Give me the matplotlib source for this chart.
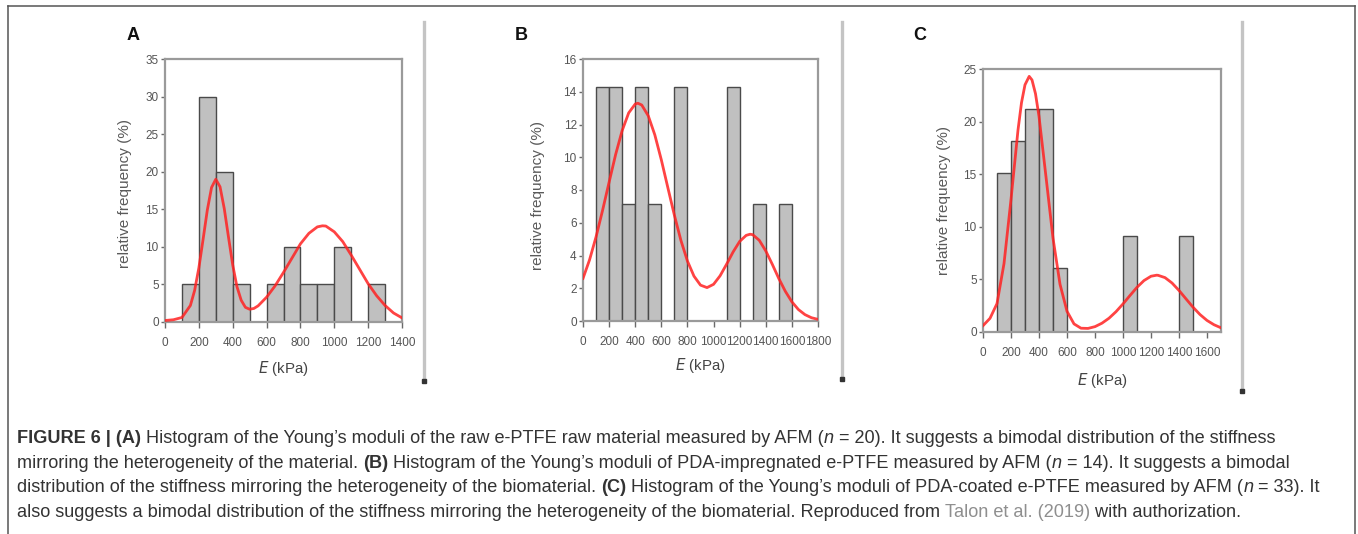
import matplotlib
matplotlib.use("Agg")
import matplotlib.pyplot as plt
from matplotlib.lines import Line2D

# ---------------- data ----------------
# bin edges (kPa), bin width 100
bins_A = [100, 200, 300, 400, 500, 600, 700, 800, 900, 1000, 1100, 1200]
freq_A = [5, 30, 20, 5, 0, 5, 10, 5, 5, 10, 0, 5]
curve_A_x = [0, 50, 100, 150, 175, 200, 225, 250, 275, 300, 325, 350, 375, 400, 425, 450,
             475, 500, 525, 550, 600, 650, 700, 750, 800, 850, 900, 930, 950, 1000, 1050,
             1100, 1150, 1200, 1250, 1300, 1350, 1400]
curve_A_y = [0.2, 0.3, 0.6, 2.2, 4.2, 7.2, 11.0, 14.9, 17.9, 19.0, 18.0, 15.1, 11.3, 7.6, 4.7, 2.9,
             1.95, 1.7, 1.8, 2.15, 3.3, 4.8, 6.6, 8.5, 10.4, 11.8, 12.66, 12.8, 12.77, 12.0, 10.7,
             8.9, 7.0, 5.1, 3.5, 2.2, 1.2, 0.55]

bins_B = [100, 200, 300, 400, 500, 700, 1100, 1300, 1500]
freq_B = [14.29, 14.29, 7.14, 14.29, 7.14, 14.29, 14.29, 7.14, 7.14]
curve_B_x = [0, 50, 100, 150, 200, 250, 300, 350, 400, 420, 450, 500, 550, 600, 650, 700, 750,
             800, 850, 900, 950, 1000, 1050, 1100, 1150, 1200, 1250, 1280, 1300, 1350, 1400,
             1450, 1500, 1550, 1600, 1650, 1700, 1750, 1800]
curve_B_y = [2.6, 3.73, 5.14, 6.76, 8.48, 10.17, 11.63, 12.71, 13.25, 13.3, 13.19, 12.53, 11.37,
             9.84, 8.14, 6.46, 4.92, 3.66, 2.74, 2.19, 2.04, 2.24, 2.76, 3.47, 4.22, 4.86, 5.23,
             5.3, 5.27, 4.93, 4.28, 3.46, 2.59, 1.81, 1.17, 0.70, 0.39, 0.20, 0.10]

bins_C = [100, 200, 300, 400, 500, 1000, 1400]
freq_C = [15.15, 18.18, 21.21, 21.21, 6.06, 9.09, 9.09]
curve_C_x = [0, 50, 100, 150, 200, 250, 275, 300, 330, 350, 375, 400, 450, 500, 550, 600, 650,
             700, 750, 800, 850, 900, 950, 1000, 1050, 1100, 1150, 1200, 1240, 1250, 1300, 1350,
             1400, 1450, 1500, 1550, 1600, 1650, 1700]
curve_C_y = [0.6, 1.3, 2.7, 6.5, 12.6, 19.2, 21.8, 23.5, 24.3, 23.96, 22.65, 20.5, 14.74, 8.92,
             4.54, 1.97, 0.77, 0.36, 0.34, 0.51, 0.84, 1.31, 1.93, 2.67, 3.47, 4.25, 4.89, 5.30,
             5.40, 5.39, 5.17, 4.66, 3.95, 3.15, 2.36, 1.66, 1.10, 0.69, 0.40]

panels = [
    dict(label="A", bins=bins_A, freq=freq_A, cx=curve_A_x, cy=curve_A_y,
         xlim=(0, 1400), xticks=list(range(0, 1401, 200)), ylim=(0, 35), yticks=list(range(0, 36, 5)),
         rect=[165, 59, 402, 322], lab=(133, 36), sep=(424, 22, 381),
         ylab=(-0.169, 0.49), xlab=(0.5, -0.175)),
    dict(label="B", bins=bins_B, freq=freq_B, cx=curve_B_x, cy=curve_B_y,
         xlim=(0, 1800), xticks=list(range(0, 1801, 200)), ylim=(0, 16), yticks=list(range(0, 17, 2)),
         rect=[583, 59, 818, 321], lab=(521, 36), sep=(842, 22, 379),
         ylab=(-0.191, 0.48), xlab=(0.5, -0.168)),
    dict(label="C", bins=bins_C, freq=freq_C, cx=curve_C_x, cy=curve_C_y,
         xlim=(0, 1700), xticks=list(range(0, 1601, 200)), ylim=(0, 25), yticks=list(range(0, 26, 5)),
         rect=[983, 69, 1221, 332], lab=(920, 36), sep=(1242, 22, 391),
         ylab=(-0.164, 0.50), xlab=(0.5, -0.183)),
]

W, H = 1358, 534
fig = plt.figure(figsize=(W / 100, H / 100), dpi=100)
plt.rcParams['font.family'] = ['Liberation Sans', 'DejaVu Sans']

def fx(px):
    return px / W

def fy(py):
    return 1 - py / H

frame_col = "#9a9a9a"
tick_col = "#6a6a6a"

for p in panels:
    x0, y0, x1, y1 = p["rect"]
    ax = fig.add_axes([fx(x0), fy(y1), fx(x1) - fx(x0), (y1 - y0) / H])
    ax.bar(p["bins"], p["freq"], width=100, align="edge", color="#c0c0c0",
           edgecolor="#4a4a4a", linewidth=1.0, zorder=2)
    ax.plot(p["cx"], p["cy"], color="#ff2222", lw=2.0, alpha=0.85, zorder=3)
    ax.set_xlim(*p["xlim"])
    ax.set_ylim(*p["ylim"])
    ax.set_xticks(p["xticks"])
    ax.set_yticks(p["yticks"])
    for s in ax.spines.values():
        s.set_color(frame_col)
        s.set_linewidth(1.6)
    ax.tick_params(axis="x", direction="out", length=4, width=1.0, color=tick_col,
                   labelsize=8.5, labelcolor="#555555", pad=6.5)
    ax.tick_params(axis="y", direction="out", length=3, width=1.0, color=tick_col,
                   labelsize=8.5, labelcolor="#555555", pad=1.5)
    yl = ax.set_ylabel("relative frequency (%)", fontsize=11, color="#5a5a5a")
    yl.set_va("center")
    ax.yaxis.set_label_coords(*p["ylab"])
    xl = ax.set_xlabel("$\\it{E}$ (kPa)", fontsize=10.8, color="#444444")
    xl.set_va("center")
    ax.xaxis.set_label_coords(*p["xlab"])
    # panel letter
    fig.text(fx(p["lab"][0]), fy(p["lab"][1]), p["label"], fontsize=13, fontweight="bold",
             ha="center", va="center", color="#111111")
    # separator line
    sx, st, sb = p["sep"]
    fig.add_artist(Line2D([fx(sx), fx(sx)], [fy(st), fy(sb)], transform=fig.transFigure,
                          color="#c4c4c4", lw=2.4))
    fig.add_artist(Line2D([fx(sx)], [fy(sb)], transform=fig.transFigure, marker="s",
                          markersize=2.5, color="#333333", lw=0))

# outer border
for xs, ys in [([8, 8], [6, 540]), ([8, 1355], [6, 6]), ([1355, 1355], [6, 540])]:
    fig.add_artist(Line2D([fx(v) for v in xs], [fy(v) for v in ys], transform=fig.transFigure,
                          color="#555555", lw=1.1))

# caption
txt_col = "#333333"
cap_size = 13.1
caption_lines = [
    [("FIGURE 6 | (A)", "bold", txt_col, "normal"),
     (" Histogram of the Young\u2019s moduli of the raw e-PTFE raw material measured by AFM (", "normal", txt_col, "normal"),
     ("n", "normal", txt_col, "italic"),
     (" = 20). It suggests a bimodal distribution of the stiffness", "normal", txt_col, "normal")],
    [("mirroring the heterogeneity of the material. ", "normal", txt_col, "normal"),
     ("(B)", "bold", txt_col, "normal"),
     (" Histogram of the Young\u2019s moduli of PDA-impregnated e-PTFE measured by AFM (", "normal", txt_col, "normal"),
     ("n", "normal", txt_col, "italic"),
     (" = 14). It suggests a bimodal", "normal", txt_col, "normal")],
    [("distribution of the stiffness mirroring the heterogeneity of the biomaterial. ", "normal", txt_col, "normal"),
     ("(C)", "bold", txt_col, "normal"),
     (" Histogram of the Young\u2019s moduli of PDA-coated e-PTFE measured by AFM (", "normal", txt_col, "normal"),
     ("n", "normal", txt_col, "italic"),
     (" = 33). It", "normal", txt_col, "normal")],
    [("also suggests a bimodal distribution of the stiffness mirroring the heterogeneity of the biomaterial. Reproduced from ", "normal", txt_col, "normal"),
     ("Talon et al. (2019)", "normal", "#8f8f8f", "normal"),
     (" with authorization.", "normal", txt_col, "normal")],
]
line_bottoms = [447, 472, 496, 521]
for segs, yb in zip(caption_lines, line_bottoms):
    last = None
    for s, wgt, col, sty in segs:
        if last is None:
            last = fig.text(fx(17), fy(yb), s, fontsize=cap_size, fontweight=wgt, color=col,
                            fontstyle=sty, ha="left", va="bottom")
        else:
            last = fig.axes[0].annotate(s, xy=(1, 0), xycoords=last, ha="left", va="bottom",
                                        fontsize=cap_size, fontweight=wgt, color=col,
                                        fontstyle=sty, annotation_clip=False)

fig.savefig("out.png", dpi=100)
